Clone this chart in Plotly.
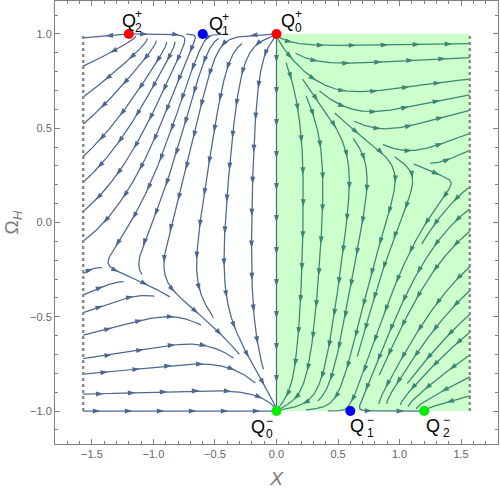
import math
import plotly.graph_objects as go

# ---------------- data ----------------
# critical points (X, Omega_H)
pt_x = [0.0, -0.6, -1.2, 0.0, 0.6, 1.2]
pt_y = [1.0, 1.0, 1.0, -1.0, -1.0, -1.0]
pt_sub = ["0", "1", "2", "0", "1", "2"]
pt_sup = ["+", "+", "+", "\u2212", "\u2212", "\u2212"]
pt_color = ["#ff0000", "#0000ee", "#ff0000", "#00ee00", "#0000ee", "#00ee00"]

# coefficients of the model flow
mix_coef = -2.3
g_const = -1.0
g_cross = 2.0
g_quad = 0.151
g_edge = 0.8
x_speed = 1.0

# physical region and shaded region
x_bound = [-math.pi / 2, math.pi / 2]
y_bound = [-1.0, 1.0]
shade_x = [0.0, math.pi / 2]
shade_y = [-1.0, 1.0]

x_ticks = [-1.5, -1.0, -0.5, 0.0, 0.5, 1.0, 1.5]
y_ticks = [-1.0, -0.5, 0.0, 0.5, 1.0]

# ---------------- layout geometry ----------------
W, H = 500, 490
ML, MR, MT, MB = 55, 2, 1, 46
XR = [-1.8, 1.8]
YR = [-1.175, 1.175]
SX = (W - ML - MR) / (XR[1] - XR[0])
SY = (H - MT - MB) / (YR[1] - YR[0])

a1, a2 = pt_x[1], pt_x[2]


def F(x):
    return x * (x - a1) * (x - a2)


def field(x, w):
    A = 0.5 * (F(x) + F(-x))
    B = 0.5 * (F(x) - F(-x))
    dx = x_speed * (A + w * B + mix_coef * (1 - w * w) * x * x)
    dw = (1 - w * w) * (1 - g_edge * w * w) * (g_const + g_cross * x * w + g_quad * x * x)
    return dx, dw


def vel(px, py):
    dx, dw = field(px / SX, py / SY)
    vx, vy = dx * SX, dw * SY
    n = math.hypot(vx, vy)
    if n < 1e-9:
        return None
    return vx / n, vy / n


PXMIN, PXMAX = x_bound[0] * SX, x_bound[1] * SX
PYMIN, PYMAX = y_bound[0] * SY, y_bound[1] * SY
FP = [(x * SX, y * SY) for x, y in zip(pt_x, pt_y)]


def inside(p):
    return PXMIN - 1e-6 <= p[0] <= PXMAX + 1e-6 and PYMIN - 1e-6 <= p[1] <= PYMAX + 1e-6


def rk4(p, h):
    k1 = vel(*p)
    if k1 is None:
        return None
    k2 = vel(p[0] + 0.5 * h * k1[0], p[1] + 0.5 * h * k1[1])
    if k2 is None:
        return None
    k3 = vel(p[0] + 0.5 * h * k2[0], p[1] + 0.5 * h * k2[1])
    if k3 is None:
        return None
    k4 = vel(p[0] + h * k3[0], p[1] + h * k3[1])
    if k4 is None:
        return None
    return (p[0] + h / 6 * (k1[0] + 2 * k2[0] + 2 * k3[0] + k4[0]),
            p[1] + h / 6 * (k1[1] + 2 * k2[1] + 2 * k3[1] + k4[1]))


DSEP = 17.0
DTEST = 0.4 * DSEP
CS = DSEP
grid = {}


def cell(p):
    return (int(math.floor((p[0] - PXMIN) / CS)), int(math.floor((p[1] - PYMIN) / CS)))


def min_dist(p):
    cx, cy = cell(p)
    best = 1e9
    for i in range(cx - 1, cx + 2):
        for j in range(cy - 1, cy + 2):
            for q in grid.get((i, j), ()):
                d = math.hypot(p[0] - q[0], p[1] - q[1])
                if d < best:
                    best = d
    return best


def fp_dist(p):
    return min(math.hypot(p[0] - f[0], p[1] - f[1]) for f in FP)


def clip(p, q):
    t = 1.0
    for k, lo, hi in ((0, PXMIN, PXMAX), (1, PYMIN, PYMAX)):
        if q[k] < lo:
            t = min(t, (lo - p[k]) / (q[k] - p[k]))
        if q[k] > hi:
            t = min(t, (hi - p[k]) / (q[k] - p[k]))
    return (p[0] + t * (q[0] - p[0]), p[1] + t * (q[1] - p[1]))


def trace_dir(seed, sgn, h=1.0, maxn=2500):
    pts = []
    p = seed
    for _ in range(maxn):
        q = rk4(p, sgn * h)
        if q is None:
            break
        if not inside(q):
            pts.append(clip(p, q))
            break
        fd = fp_dist(q)
        if fd < 2.5:
            f = min(FP, key=lambda f: math.hypot(q[0] - f[0], q[1] - f[1]))
            pts.append(f)
            break
        dt = DTEST * min(1.0, fd / 30.0)
        if min_dist(q) < dt:
            break
        if len(pts) > 2:
            v1 = (pts[-1][0] - pts[-2][0], pts[-1][1] - pts[-2][1])
            v2 = (q[0] - p[0], q[1] - p[1])
            if v1[0] * v2[0] + v1[1] * v2[1] < 0:
                break
        pts.append(q)
        p = q
    return pts


lines = []


def add_line(pts):
    lines.append(pts)
    for p in pts:
        grid.setdefault(cell(p), []).append(p)


def try_seed(seed, minlen=12.0):
    if not inside(seed):
        return None
    if min_dist(seed) < DSEP * 0.95 or fp_dist(seed) < 6:
        return None
    b = trace_dir(seed, -1.0)
    f = trace_dir(seed, 1.0)
    pts = b[::-1] + [seed] + f
    L = sum(math.hypot(pts[i + 1][0] - pts[i][0], pts[i + 1][1] - pts[i][1]) for i in range(len(pts) - 1))
    if L < minlen:
        return None
    add_line(pts)
    return pts


# invariant line X = 0 (from Q0+ to Q0-)
seed0 = (0.0, 0.0)
b0 = trace_dir(seed0, -1.0)
f0 = trace_dir(seed0, 1.0)
add_line(b0[::-1] + [seed0] + f0)

queue = [lines[0]]
cand = []
nx, ny = 24, 24
for j in range(ny):
    for i in range(nx):
        cand.append((PXMIN + (i + 0.5) * (PXMAX - PXMIN) / nx, PYMIN + (j + 0.5) * (PYMAX - PYMIN) / ny))
ci = 0
while True:
    while queue:
        ln = queue.pop(0)
        acc = 0.0
        for k in range(1, len(ln)):
            acc += math.hypot(ln[k][0] - ln[k - 1][0], ln[k][1] - ln[k - 1][1])
            if acc < DSEP * 0.5:
                continue
            acc = 0.0
            dx = ln[k][0] - ln[k - 1][0]
            dy = ln[k][1] - ln[k - 1][1]
            n = math.hypot(dx, dy)
            if n == 0:
                continue
            nxv, nyv = -dy / n, dx / n
            for s in (1, -1):
                sd = (ln[k][0] + s * DSEP * nxv, ln[k][1] + s * DSEP * nyv)
                r = try_seed(sd)
                if r is not None:
                    queue.append(r)
    if ci >= len(cand):
        break
    r = try_seed(cand[ci])
    ci += 1
    if r is not None:
        queue.append(r)

# ---------------- build traces ----------------
lx, ly = [], []
ax, ay, ang = [], [], []
SPACING = 32.0
for ln in lines:
    for p in ln:
        lx.append(p[0] / SX)
        ly.append(p[1] / SY)
    lx.append(None)
    ly.append(None)
    s = [0.0]
    for k in range(1, len(ln)):
        s.append(s[-1] + math.hypot(ln[k][0] - ln[k - 1][0], ln[k][1] - ln[k - 1][1]))
    L = s[-1]
    if L < 14:
        continue
    nar = max(1, int(L // SPACING))
    start = (L - (nar - 1) * SPACING) / 2.0
    targets = [start + m * SPACING for m in range(nar)]
    k = 1
    for t in targets:
        while k < len(ln) - 1 and s[k] < t:
            k += 1
        dx = ln[k][0] - ln[k - 1][0]
        dy = ln[k][1] - ln[k - 1][1]
        if dx == 0 and dy == 0:
            continue
        ax.append(ln[k][0] / SX)
        ay.append(ln[k][1] / SY)
        ang.append(math.degrees(math.atan2(dx, dy)))

STREAM = "rgb(76,104,145)"
fig = go.Figure()
fig.add_trace(go.Scatter(x=lx, y=ly, mode="lines", line=dict(color=STREAM, width=1.25),
                         hoverinfo="skip", showlegend=False))
fig.add_trace(go.Scatter(x=ax, y=ay, mode="markers",
                         marker=dict(symbol="arrow", size=8, angle=ang, color=STREAM,
                                     line=dict(width=0)),
                         hoverinfo="skip", showlegend=False))
fig.add_trace(go.Scatter(x=[shade_x[0], shade_x[1], shade_x[1], shade_x[0], shade_x[0]],
                         y=[shade_y[0], shade_y[0], shade_y[1], shade_y[1], shade_y[0]],
                         mode="lines", fill="toself", fillcolor="rgba(0,255,0,0.2)",
                         line=dict(width=0), hoverinfo="skip", showlegend=False))
for xb in x_bound:
    fig.add_trace(go.Scatter(x=[xb, xb], y=y_bound, mode="lines",
                             line=dict(color="#8c8c8c", width=2.5, dash="3px,3px"),
                             hoverinfo="skip", showlegend=False))
fig.add_trace(go.Scatter(x=pt_x, y=pt_y, mode="markers",
                         marker=dict(size=10, color=pt_color, line=dict(width=0)),
                         hoverinfo="skip", showlegend=False))

# label offsets (px): Q, sup, sub
q_off = [(11, 13), (13, 10), (0, 13), (-19, -16), (7, -15), (9, -15)]
s_off = [(22, 20), (23, 17), (10, 20), (-7, -10), (20, -9), (22, -9)]
b_off = [(22, 6), (23, 3), (10, 6), (-7, -23), (20, -22), (22, -22)]
for i in range(len(pt_x)):
    fig.add_annotation(x=pt_x[i], y=pt_y[i], text="Q", showarrow=False,
                       xshift=q_off[i][0], yshift=q_off[i][1],
                       font=dict(family="Liberation Sans, Arial", size=18, color="black"))
    fig.add_annotation(x=pt_x[i], y=pt_y[i], text=pt_sup[i], showarrow=False,
                       xshift=s_off[i][0], yshift=s_off[i][1],
                       font=dict(family="Liberation Sans, Arial", size=12, color="black"))
    fig.add_annotation(x=pt_x[i], y=pt_y[i], text=pt_sub[i], showarrow=False,
                       xshift=b_off[i][0], yshift=b_off[i][1],
                       font=dict(family="Liberation Sans, Arial", size=12, color="black"))

axis_common = dict(showgrid=False, zeroline=False, showline=True, linecolor="#7f7f7f",
                   linewidth=1, mirror="allticks", ticks="inside", ticklen=5,
                   tickcolor="#7f7f7f", tickfont=dict(family="Liberation Sans, Arial", size=11, color="#666666"),
                   minor=dict(ticks="inside", ticklen=3, tickcolor="#7f7f7f", dtick=0.1),
                   tickformat=".1f")
fig.update_xaxes(range=XR, tickvals=x_ticks, **axis_common,
                 title=dict(text="<i>X</i>", standoff=12,
                            font=dict(family="Liberation Sans, Arial", size=19, color="#777777")))
fig.update_yaxes(range=YR, tickvals=y_ticks, **axis_common,
                 title=dict(text="\u03a9<sub><i>H</i></sub>", standoff=6,
                            font=dict(family="Liberation Sans, Arial", size=19, color="#777777")))
fig.update_layout(width=W, height=H, margin=dict(l=ML, r=MR, t=MT, b=MB, autoexpand=False),
                  plot_bgcolor="white", paper_bgcolor="white")
fig.write_html("out.html", config={"displayModeBar": False},
               post_script="document.body.style.margin='0';document.body.style.overflow='hidden';")
